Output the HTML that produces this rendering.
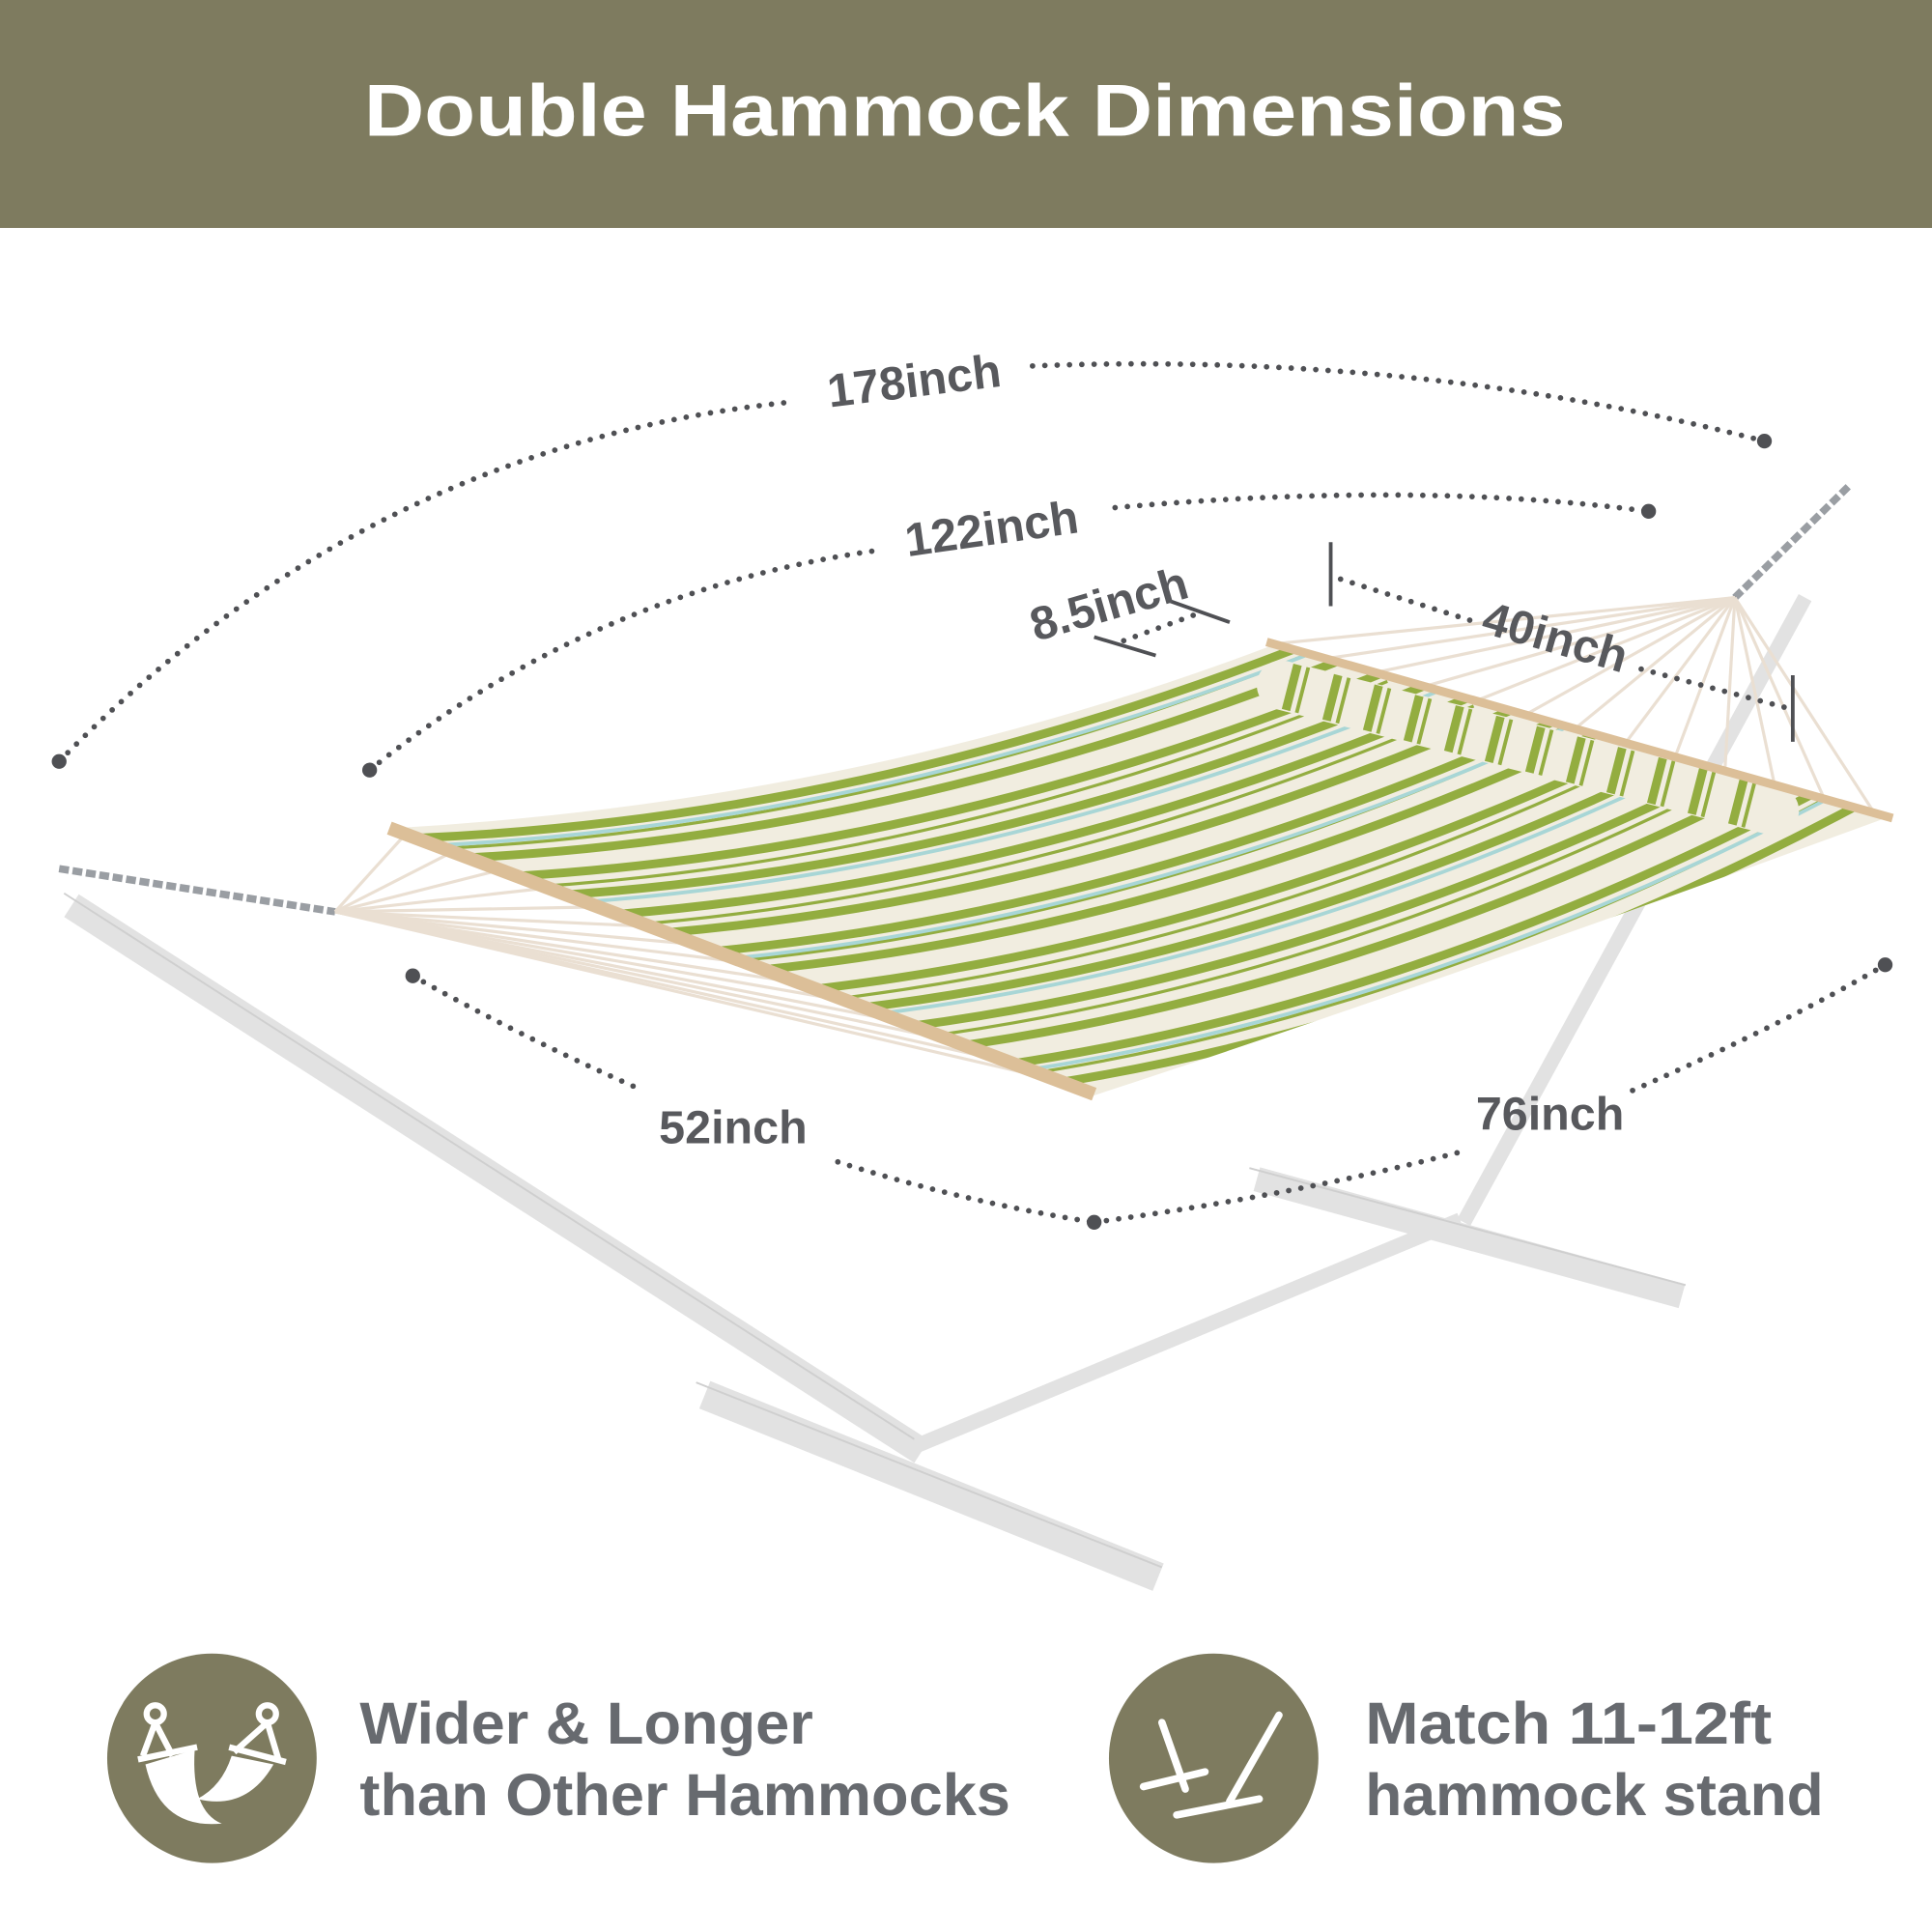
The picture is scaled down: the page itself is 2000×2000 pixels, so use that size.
<!DOCTYPE html>
<html><head><meta charset="utf-8"><style>
html,body{margin:0;padding:0;background:#fff;width:2000px;height:2000px;overflow:hidden}
svg{display:block}
text{font-family:"Liberation Sans",sans-serif;font-weight:bold}
</style></head><body>
<svg width="2000" height="2000" viewBox="0 0 1568 1568" xmlns="http://www.w3.org/2000/svg">
<defs>
<clipPath id="hm"><path d="M322,672 Q700,650 1032,524 L1530,664 Q1160,800 885,890 Z"/></clipPath>
</defs>
<rect width="1568" height="1568" fill="#fff"/>
<rect width="1568" height="185" fill="#7e7b5f"/>
<text x="783" y="110" font-size="60" fill="#fff" text-anchor="middle" textLength="975" lengthAdjust="spacingAndGlyphs">Double Hammock Dimensions</text>

<!-- stand -->
<g stroke="#e2e2e2" stroke-linecap="butt" fill="none">
<line x1="58" y1="735" x2="748" y2="1178" stroke-width="22"/>
<line x1="572" y1="1132" x2="940" y2="1280" stroke-width="24"/>
<line x1="740" y1="1175" x2="1185" y2="990" stroke-width="12"/>
<line x1="1465" y1="485" x2="1188" y2="992" stroke-width="12"/>
<line x1="1020" y1="957" x2="1365" y2="1052" stroke-width="20"/>
</g>
<g stroke="#cfcfcf" fill="none" stroke-width="1.5">
<line x1="52" y1="725" x2="742" y2="1168"/>
<line x1="565" y1="1122" x2="943" y2="1272"/>
<line x1="1014" y1="948" x2="1368" y2="1043"/>
</g>

<!-- chains -->
<line x1="48" y1="705" x2="272" y2="740" stroke="#9a9ea3" stroke-width="6" stroke-dasharray="8 3"/>
<line x1="1500" y1="395" x2="1408" y2="485" stroke="#9a9ea3" stroke-width="6" stroke-dasharray="8 3"/>

<!-- ropes -->
<g stroke="#eadfd2" stroke-width="2.5">
<line x1="272" y1="740" x2="330" y2="676"/><line x1="272" y1="740" x2="370" y2="690"/><line x1="272" y1="740" x2="410" y2="705"/><line x1="272" y1="740" x2="450" y2="720"/><line x1="272" y1="740" x2="490" y2="736"/><line x1="272" y1="740" x2="530" y2="752"/><line x1="272" y1="740" x2="570" y2="767"/><line x1="272" y1="740" x2="610" y2="782"/><line x1="272" y1="740" x2="650" y2="798"/><line x1="272" y1="740" x2="690" y2="813"/><line x1="272" y1="740" x2="730" y2="829"/><line x1="272" y1="740" x2="770" y2="844"/><line x1="272" y1="740" x2="810" y2="860"/><line x1="272" y1="740" x2="850" y2="875"/>
<line x1="1408" y1="485" x2="1040" y2="522"/><line x1="1408" y1="485" x2="1080" y2="534"/><line x1="1408" y1="485" x2="1120" y2="545"/><line x1="1408" y1="485" x2="1160" y2="556"/><line x1="1408" y1="485" x2="1200" y2="568"/><line x1="1408" y1="485" x2="1240" y2="579"/><line x1="1408" y1="485" x2="1280" y2="590"/><line x1="1408" y1="485" x2="1320" y2="602"/><line x1="1408" y1="485" x2="1360" y2="613"/><line x1="1408" y1="485" x2="1400" y2="624"/><line x1="1408" y1="485" x2="1440" y2="636"/><line x1="1408" y1="485" x2="1480" y2="647"/><line x1="1408" y1="485" x2="1520" y2="658"/>
</g>

<!-- hammock -->
<path d="M322,672 Q700,650 1032,524 L1530,664 Q1160,800 885,890 Z" fill="#f1ede0"/>
<g clip-path="url(#hm)" fill="none" stroke-width="7" stroke="#93ad40">
<path d="M342,680 Q696,664 1050,527"/>
<path d="M382,696 Q733,677 1085,537"/>
<path d="M421,711 Q771,689 1120,547"/>
<path d="M461,726 Q808,702 1155,557"/>
<path d="M501,742 Q845,714 1190,567"/>
<path d="M540,757 Q883,727 1225,577"/>
<path d="M580,772 Q920,739 1260,586"/>
<path d="M619,787 Q957,752 1295,596"/>
<path d="M659,803 Q995,764 1330,606"/>
<path d="M698,818 Q1032,777 1365,616"/>
<path d="M738,833 Q1069,789 1400,626"/>
<path d="M778,849 Q1106,802 1435,635"/>
<path d="M817,864 Q1144,815 1470,645"/>
<path d="M857,879 Q1181,827 1505,655"/>
</g>
<g clip-path="url(#hm)" fill="none" stroke-width="2.5" stroke="#93ad40">
<path d="M350,689 Q704,673 1056,533"/>
<path d="M429,720 Q779,698 1126,553"/>
<path d="M509,751 Q853,723 1196,573"/>
<path d="M588,781 Q928,748 1266,592"/>
<path d="M667,812 Q1003,773 1336,612"/>
<path d="M746,842 Q1077,798 1406,632"/>
<path d="M825,873 Q1152,824 1476,651"/>
</g>
<g clip-path="url(#hm)" fill="none" stroke-width="3" stroke="#a8d6d6">
<path d="M355,686 Q710,668 1062,531"/>
<path d="M474,732 Q820,706 1167,561"/>
<path d="M593,778 Q932,744 1272,590"/>
<path d="M711,823 Q1044,781 1377,619"/>
<path d="M830,869 Q1156,819 1482,649"/>
</g>
<!-- pillow -->
<line x1="1040" y1="556" x2="1440" y2="658" stroke="#f1ede0" stroke-width="40" stroke-linecap="round"/>
<line x1="1045" y1="557" x2="1435" y2="657" stroke="#93ad40" stroke-width="38" stroke-dasharray="7 4 3 20"/>
<!-- spreader bars -->
<line x1="316" y1="672" x2="888" y2="888" stroke="#dcbf98" stroke-width="11"/>
<line x1="1028" y1="521" x2="1536" y2="664" stroke="#dcbf98" stroke-width="7"/>

<!-- dimension dots -->
<g fill="none" stroke="#4f5054" stroke-width="4.5" stroke-linecap="round" stroke-dasharray="0 10">
<path d="M48,618 Q300,360 645,326"/>
<path d="M838,297 Q1150,285 1432,358"/>
<path d="M300,625 Q480,480 710,447"/>
<path d="M905,412 Q1150,390 1338,415"/>
<path d="M912,520 L975,497"/>
<path d="M1088,470 L1198,505"/>
<path d="M1332,543 L1452,575"/>
<path d="M335,792 Q420,840 515,882"/>
<path d="M680,943 Q780,975 888,992"/>
<path d="M888,992 Q1050,970 1185,935"/>
<path d="M1325,885 Q1450,830 1530,783"/>
</g>
<g fill="#4f5054">
<circle cx="48" cy="618" r="6"/><circle cx="1432" cy="358" r="6"/><circle cx="300" cy="625" r="6"/><circle cx="1338" cy="415" r="6"/><circle cx="335" cy="792" r="6"/><circle cx="888" cy="992" r="6"/><circle cx="1530" cy="783" r="6"/>
</g>
<g stroke="#4f5054" stroke-width="3">
<line x1="1080" y1="440" x2="1080" y2="492"/><line x1="1455" y1="548" x2="1455" y2="602"/>
<line x1="888" y1="517" x2="938" y2="532"/><line x1="950" y1="488" x2="998" y2="505"/>
</g>
<g font-size="38" fill="#58595d">
<text x="742" y="322" text-anchor="middle" transform="rotate(-7 742 310)">178inch</text>
<text x="805" y="442" text-anchor="middle" transform="rotate(-8 805 430)">122inch</text>
<text x="900" y="503" text-anchor="middle" transform="rotate(-16 900 490)">8.5inch</text>
<text x="1262" y="530" text-anchor="middle" transform="rotate(16 1262 518)">40inch</text>
<text x="595" y="928" text-anchor="middle">52inch</text>
<text x="1258" y="917" text-anchor="middle">76inch</text>
</g>

<!-- bottom icons -->
<circle cx="172" cy="1427" r="85" fill="#7e7b5f"/>
<g stroke="#fff" stroke-width="5" fill="none">
<circle cx="126" cy="1391" r="7"/><circle cx="217" cy="1391" r="7"/>
<path d="M126,1398 L116,1425 M126,1398 L140,1425 M217,1398 L190,1422 M217,1398 L226,1428"/>
<line x1="112" y1="1428" x2="160" y2="1418"/><line x1="186" y1="1418" x2="232" y2="1430"/>
</g>
<path d="M118,1432 Q130,1485 180,1480 Q155,1470 158,1420 Z" fill="#fff"/>
<path d="M188,1425 Q180,1450 160,1460 Q200,1470 222,1432 Z" fill="#fff"/>
<circle cx="985" cy="1427" r="85" fill="#7e7b5f"/>
<g stroke="#fff" stroke-width="6" stroke-linecap="round">
<line x1="943" y1="1398" x2="962" y2="1452"/>
<line x1="1038" y1="1392" x2="998" y2="1462"/>
<line x1="928" y1="1450" x2="978" y2="1438"/>
<line x1="955" y1="1473" x2="1022" y2="1460"/>
</g>
<g font-size="48" fill="#676a6f">
<text x="292" y="1415" textLength="368" lengthAdjust="spacingAndGlyphs">Wider &amp; Longer</text>
<text x="292" y="1473" textLength="528" lengthAdjust="spacingAndGlyphs">than Other Hammocks</text>
<text x="1108" y="1415" textLength="330" lengthAdjust="spacingAndGlyphs">Match 11-12ft</text>
<text x="1108" y="1473" textLength="372" lengthAdjust="spacingAndGlyphs">hammock stand</text>
</g>
</svg>
</body></html>
